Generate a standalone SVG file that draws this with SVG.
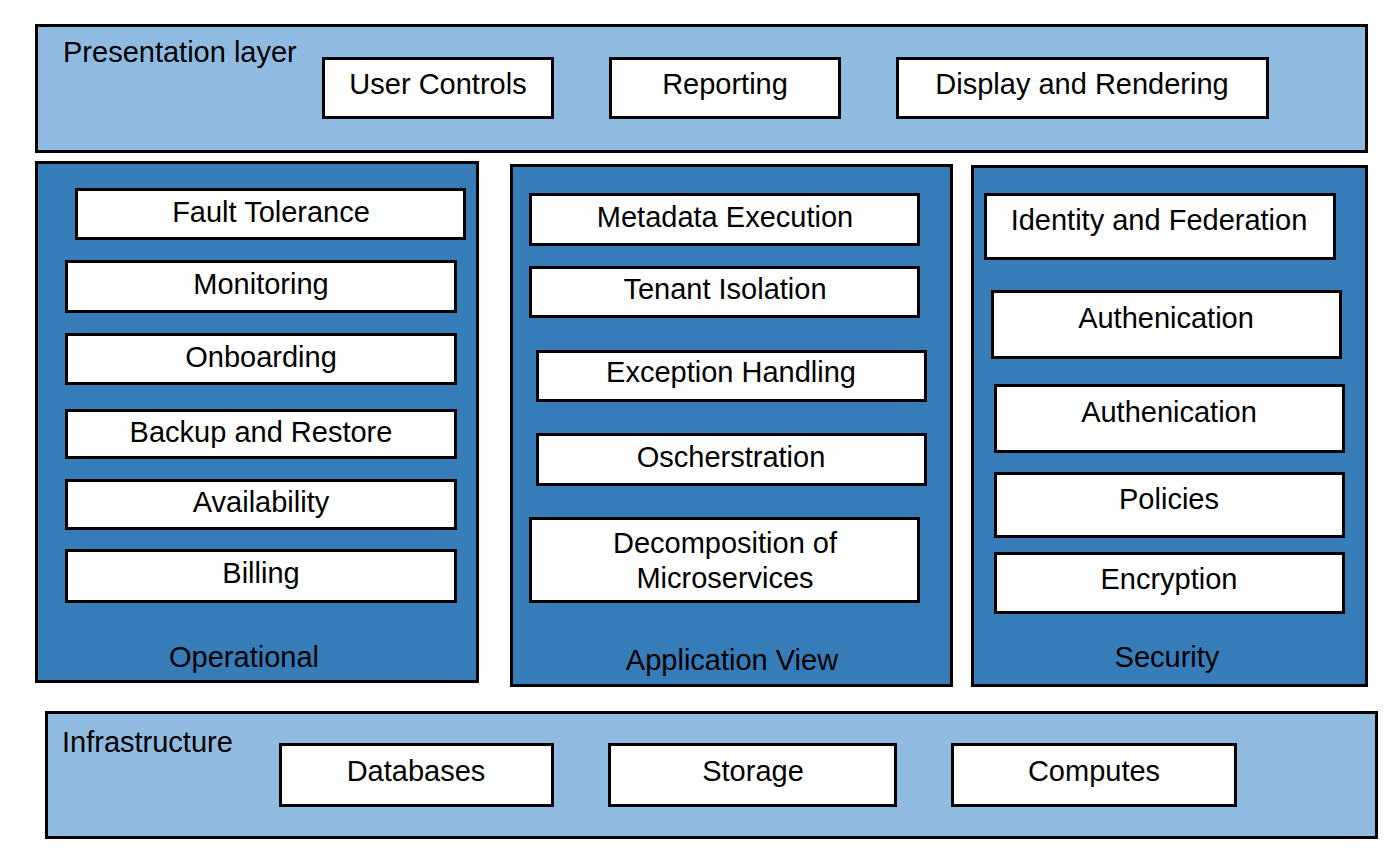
<svg xmlns="http://www.w3.org/2000/svg" width="1400" height="856" viewBox="0 0 1400 856">
<style>
.outer-light{fill:#8FBBE1;stroke:#000;stroke-width:3}
.outer-dark{fill:#367CB8;stroke:#000;stroke-width:3}
.box{fill:#fff;stroke:#000;stroke-width:3}
text{font-family:"Liberation Sans",Arial,sans-serif;font-size:29px;fill:#000}
.c{text-anchor:middle}
</style>
<rect width="1400" height="856" fill="#fff"/>
<g id="presentation">
<rect class="outer-light" x="36.5" y="25.5" width="1330" height="126"/>
<text x="63" y="62">Presentation layer</text>
</g>
<g id="user-controls"><rect class="box" x="323.5" y="58.5" width="229" height="59"/><text class="c" x="438" y="94">User Controls</text></g>
<g id="reporting"><rect class="box" x="610.5" y="58.5" width="229" height="59"/><text class="c" x="725" y="94">Reporting</text></g>
<g id="display-rendering"><rect class="box" x="897.5" y="58.5" width="370" height="59"/><text class="c" x="1082" y="94">Display and Rendering</text></g>

<g id="operational">
<rect class="outer-dark" x="36.5" y="162.5" width="441" height="519"/>
<text class="c" x="244" y="667">Operational</text>
</g>
<g id="fault-tolerance"><rect class="box" x="76.5" y="189.5" width="388" height="49"/><text class="c" x="271" y="222">Fault Tolerance</text></g>
<g id="monitoring"><rect class="box" x="66.5" y="261.5" width="389" height="50"/><text class="c" x="261" y="294">Monitoring</text></g>
<g id="onboarding"><rect class="box" x="66.5" y="334.5" width="389" height="49"/><text class="c" x="261" y="367">Onboarding</text></g>
<g id="backup-restore"><rect class="box" x="66.5" y="410.5" width="389" height="47"/><text class="c" x="261" y="442">Backup and Restore</text></g>
<g id="availability"><rect class="box" x="66.5" y="480.5" width="389" height="48"/><text class="c" x="261" y="512">Availability</text></g>
<g id="billing"><rect class="box" x="66.5" y="550.5" width="389" height="51"/><text class="c" x="261" y="583">Billing</text></g>

<g id="application-view">
<rect class="outer-dark" x="511.5" y="165.5" width="440" height="520"/>
<text class="c" x="732" y="670">Application View</text>
</g>
<g id="metadata-execution"><rect class="box" x="530.5" y="194.5" width="388" height="50"/><text class="c" x="725" y="227">Metadata Execution</text></g>
<g id="tenant-isolation"><rect class="box" x="530.5" y="267.5" width="388" height="49"/><text class="c" x="725" y="299">Tenant Isolation</text></g>
<g id="exception-handling"><rect class="box" x="537.5" y="351.5" width="388" height="49"/><text class="c" x="731" y="382">Exception Handling</text></g>
<g id="orchestration"><rect class="box" x="537.5" y="434.5" width="388" height="50"/><text class="c" x="731" y="467">Oscherstration</text></g>
<g id="decomposition"><rect class="box" x="530.5" y="518.5" width="388" height="83"/><text class="c" x="725" y="553">Decomposition of</text><text class="c" x="725" y="588">Microservices</text></g>

<g id="security">
<rect class="outer-dark" x="972.5" y="166.5" width="394" height="519"/>
<text class="c" x="1167" y="667">Security</text>
</g>
<g id="identity-federation"><rect class="box" x="985.5" y="194.5" width="349" height="64"/><text class="c" x="1159" y="230">Identity and Federation</text></g>
<g id="authenication-1"><rect class="box" x="992.5" y="291.5" width="348" height="66"/><text class="c" x="1166" y="328">Authenication</text></g>
<g id="authenication-2"><rect class="box" x="995.5" y="385.5" width="348" height="66"/><text class="c" x="1169" y="422">Authenication</text></g>
<g id="policies"><rect class="box" x="995.5" y="473.5" width="348" height="63"/><text class="c" x="1169" y="509">Policies</text></g>
<g id="encryption"><rect class="box" x="995.5" y="553.5" width="348" height="59"/><text class="c" x="1169" y="589">Encryption</text></g>

<g id="infrastructure">
<rect class="outer-light" x="46.5" y="712.5" width="1330" height="125"/>
<text x="62" y="752">Infrastructure</text>
</g>
<g id="databases"><rect class="box" x="280.5" y="744.5" width="272" height="61"/><text class="c" x="416" y="781">Databases</text></g>
<g id="storage"><rect class="box" x="609.5" y="744.5" width="286" height="61"/><text class="c" x="753" y="781">Storage</text></g>
<g id="computes"><rect class="box" x="952.5" y="744.5" width="283" height="61"/><text class="c" x="1094" y="781">Computes</text></g>

<g id="connectors"></g>
</svg>
